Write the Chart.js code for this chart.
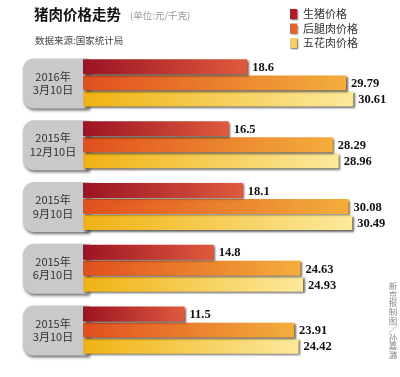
<!DOCTYPE html>
<html><head><meta charset="utf-8">
<script src="https://cdn.jsdelivr.net/npm/chart.js@4/dist/chart.umd.min.js"></script>
<style>html,body{margin:0;padding:0;background:#fff}#wrap{width:400px;height:377px;position:relative}</style>
</head><body><div id="wrap"><canvas id="c" width="400" height="377"></canvas></div>
<script>
const categories = [["2016年","3月10日"],["2015年","12月10日"],["2015年","9月10日"],["2015年","6月10日"],["2015年","3月10日"]];
const seriesNames = ["生猪价格","后腿肉价格","五花肉价格"];
const livePig = [18.6, 16.5, 18.1, 14.8, 11.5];
const hindLeg = [29.79, 28.29, 30.08, 24.63, 23.91];
const porkBelly = [30.61, 28.96, 30.49, 24.93, 24.42];
const valueLabels = [
  ["18.6","16.5","18.1","14.8","11.5"],
  ["29.79","28.29","30.08","24.63","23.91"],
  ["30.61","28.96","30.49","24.93","24.42"]
];
const gradStops = [["#9c1323","#de5b3e"],["#e14f1e","#f3ae3c"],["#f0b212","#fce99c"]];
const legendColors = ["#b31b28","#e2622a","#f2d062"];

function gradFor(i){
  return function(ctx){
    const chart = ctx.chart;
    const ca = chart.chartArea;
    if(!ca) return gradStops[i][0];
    const xs = chart.scales.x;
    const v = ctx.raw == null ? 1 : ctx.raw;
    const x1 = xs.getPixelForValue(0), x2 = xs.getPixelForValue(v);
    const g = chart.ctx.createLinearGradient(x1,0,Math.max(x2,x1+1),0);
    g.addColorStop(0,gradStops[i][0]);
    g.addColorStop(1,gradStops[i][1]);
    return g;
  };
}

const decor = {
  id:'decor',
  beforeDatasetsDraw(chart){
    const ctx = chart.ctx, ys = chart.scales.y, ca = chart.chartArea;
    ctx.save();
    categories.forEach((lab,i)=>{
      const cy = ys.getPixelForValue(i);
      const top = cy-24.5, h = 50, left = 23, right = ca.left+6, r = 11;
      ctx.save();
      ctx.shadowColor='rgba(0,0,0,0.55)';ctx.shadowBlur=3;ctx.shadowOffsetX=1;ctx.shadowOffsetY=2;
      ctx.fillStyle='#cac8ca';
      ctx.beginPath();
      ctx.moveTo(right,top);ctx.lineTo(left+r,top);ctx.arcTo(left,top,left,top+r,r);
      ctx.lineTo(left,top+h-r);ctx.arcTo(left,top+h,left+r,top+h,r);ctx.lineTo(right,top+h);ctx.closePath();
      ctx.fill();
      ctx.restore();
      ctx.fillStyle='#333';
      ctx.font='11px "Noto Sans CJK SC", sans-serif';
      ctx.textAlign='center';ctx.textBaseline='middle';
      ctx.fillText(lab[0],53,cy-6.5);
      ctx.fillText(lab[1],53,cy+7);
    });
    ctx.restore();
    ctx.save();
    ctx.shadowColor='rgba(0,0,0,0.6)';ctx.shadowBlur=2;ctx.shadowOffsetX=1.5;ctx.shadowOffsetY=1.5;
  },
  afterDatasetsDraw(chart){
    const ctx = chart.ctx;
    ctx.restore();
    ctx.save();
    ctx.fillStyle='#111';
    ctx.font='bold 12.5px "Liberation Serif", serif';
    ctx.textAlign='left';ctx.textBaseline='middle';
    chart.data.datasets.forEach((ds,di)=>{
      const meta = chart.getDatasetMeta(di);
      meta.data.forEach((bar,j)=>{
        ctx.fillText(valueLabels[di][j], bar.x+5, bar.y+1);
      });
    });
    // title
    ctx.fillStyle='#111';
    ctx.font='bold 14.5px "Noto Sans CJK SC", sans-serif';
    ctx.textBaseline='middle';
    ctx.fillText('猪肉价格走势',34,14);
    ctx.fillStyle='#999';
    ctx.font='9.5px "Noto Sans CJK SC", sans-serif';
    ctx.fillText('(单位:元/千克)',130,15);
    ctx.fillStyle='#444';
    ctx.font='9.5px "Noto Sans CJK SC", sans-serif';
    ctx.fillText('数据来源:国家统计局',35,40);
    // legend
    chart.data.datasets.forEach((ds,di)=>{
      const y = 14 + di*14.5;
      ctx.save();
      ctx.shadowColor='rgba(0,0,0,0.6)';ctx.shadowBlur=1.5;ctx.shadowOffsetX=1;ctx.shadowOffsetY=1;
      ctx.fillStyle=legendColors[di];
      ctx.fillRect(290,y-5,7,10);
      ctx.restore();
      ctx.fillStyle='#333';
      ctx.font='11px "Noto Sans CJK SC", sans-serif';
      ctx.fillText(ds.label,303,y);
    });
    // credit
    ctx.fillStyle='#888';
    ctx.font='8.5px "Noto Sans CJK SC", sans-serif';
    ctx.textAlign='center';
    const credit = ['新','京','报','制','图','╱','孙','嘉','潞'];
    credit.forEach((ch,k)=>{ ctx.fillText(ch,393,286+k*8.6); });
    ctx.restore();
  }
};

new Chart(document.getElementById('c'),{
  type:'bar',
  data:{
    labels: categories,
    datasets:[
      {label:seriesNames[0],data:livePig,backgroundColor:gradFor(0)},
      {label:seriesNames[1],data:hindLeg,backgroundColor:gradFor(1)},
      {label:seriesNames[2],data:porkBelly,backgroundColor:gradFor(2)}
    ]
  },
  options:{
    indexAxis:'y',
    responsive:false,
    animation:false,
    devicePixelRatio:1,
    layout:{padding:{left:83,right:8,top:52,bottom:16}},
    datasets:{bar:{categoryPercentage:0.78,barPercentage:0.93,borderWidth:0}},
    scales:{
      x:{display:false,min:0,max:35},
      y:{display:false}
    },
    plugins:{legend:{display:false},tooltip:{enabled:false}}
  },
  plugins:[decor]
});
</script></body></html>
